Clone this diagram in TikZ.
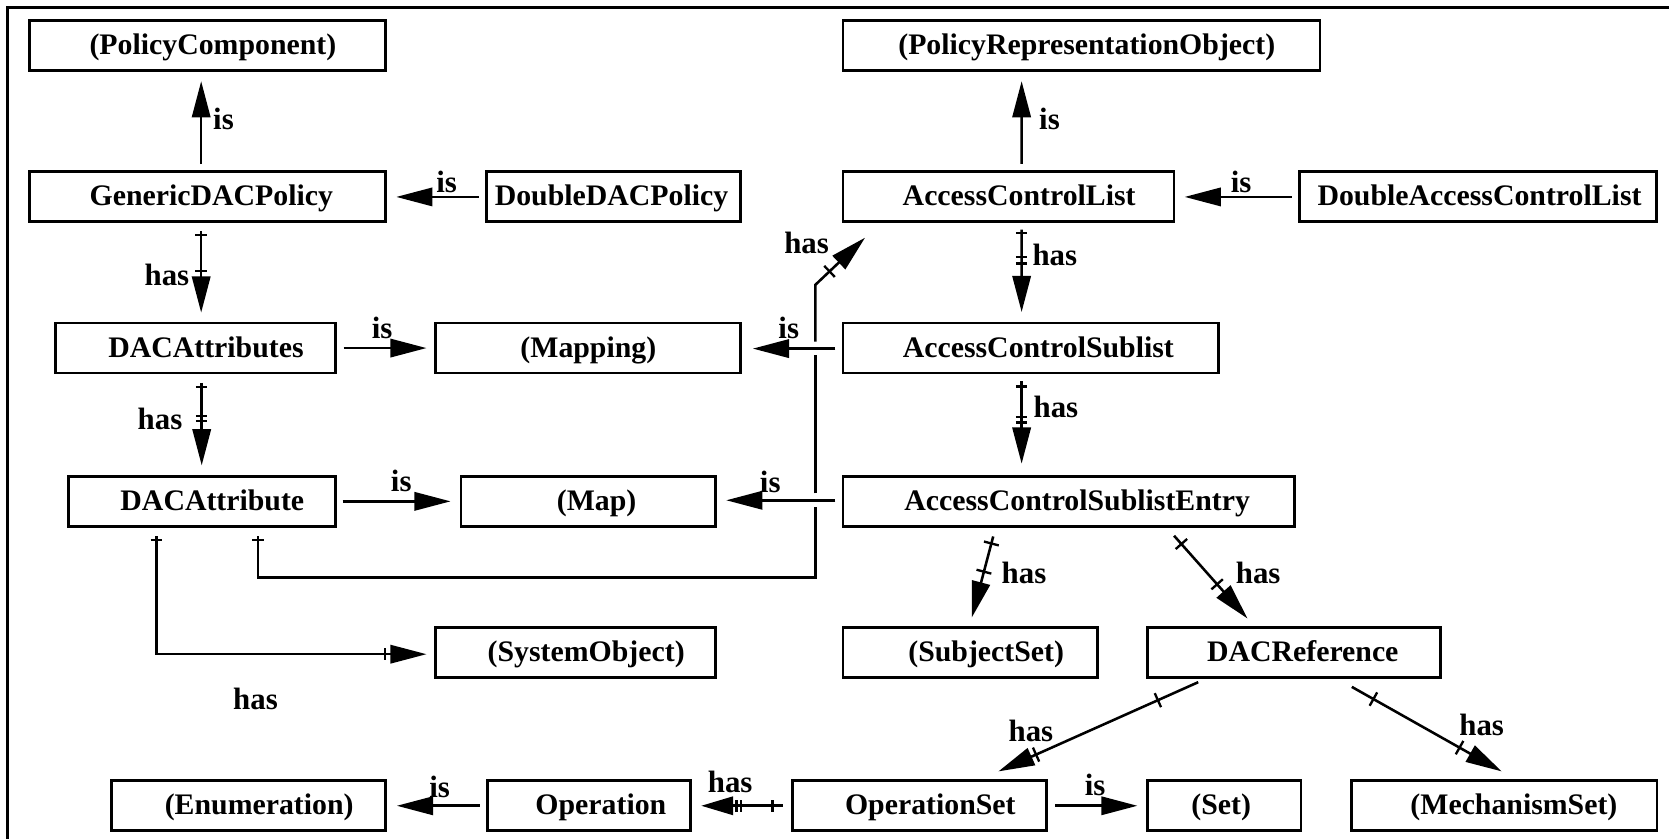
\documentclass[tikz,border=0pt]{standalone}
\usepackage{fontspec}
\setmainfont{Liberation Serif}
\usetikzlibrary{arrows.meta,decorations.markings,calc}

\begin{document}
\begin{tikzpicture}[x=0.5pt,y=-0.5pt,
  box/.style={draw, line width=1.3pt, rectangle, inner sep=0pt,
    minimum height=23.5pt, text height=10.8pt, text depth=2.2pt,
    font=\fontsize{14}{16}\selectfont\bfseries},
  bw/.style={minimum width=#1*0.5pt},
  tshift/.style={execute at begin node={\hspace*{#1pt}}},
  conn/.style={line width=1.2pt},
  headed/.style={-{Triangle[length=17pt,width=8.6pt]}},
  lbl/.style={font=\fontsize{14.5}{16}\selectfont\bfseries, inner sep=0pt},
  bar at/.style={postaction={decorate, decoration={markings,
    mark=at position #1 with {\draw[arrows=-, line width=1.2pt] (0,-2.7pt) -- (0,2.7pt);}}}},
  cross at/.style={postaction={decorate, decoration={markings,
    mark=at position #1 with {\draw[arrows=-, line width=1.1pt] (0,-3.6pt) -- (0,3.6pt);}}}}
]
\useasboundingbox (0,0) rectangle (1568,788);

% frame
\draw[line width=1.3pt] (7,788) -- (7,7) -- (1568,7);

% classes
\node[box, bw=334,   tshift=5]   (pc)      at (195,42.5)    {(PolicyComponent)};
\node[box, bw=448,   tshift=5]   (pro)     at (1016,42.5)   {(PolicyRepresentationObject)};
\node[box, bw=334,   tshift=3.5] (gdp)     at (195,184.5)   {GenericDACPolicy};
\node[box, bw=239,   tshift=-2]  (ddp)     at (576.5,184.5) {DoubleDACPolicy};
\node[box, bw=311,   tshift=10]  (acl)     at (947.5,184.5) {AccessControlList};
\node[box, bw=335,   tshift=1.5] (dacl)    at (1388.5,184.5){DoubleAccessControlList};
\node[box, bw=263,   tshift=10]  (dattrs)  at (183.5,327)   {DACAttributes};
\node[box, bw=286.5, tshift=0]   (mapping) at (552.75,327)  {(Mapping)};
\node[box, bw=353,   tshift=7]   (acs)     at (968.5,327)   {AccessControlSublist};
\node[box, bw=251,   tshift=10]  (dattr)   at (189.5,471)   {DACAttribute};
\node[box, bw=239,   tshift=8]   (map)     at (552.5,471)   {(Map)};
\node[box, bw=424,   tshift=8]   (acse)    at (1004,471)    {AccessControlSublistEntry};
\node[box, bw=262.5, tshift=10]  (sysobj)  at (540.75,613)  {(SystemObject)};
\node[box, bw=239,   tshift=15]  (subj)    at (911.5,613)   {(SubjectSet)};
\node[box, bw=275,   tshift=8]   (dacref)  at (1215.9,613)  {DACReference};
\node[box, bw=257,   tshift=10]  (enum)    at (233.5,757)   {(Enumeration)};
\node[box, bw=191,   tshift=11]  (oper)    at (553.5,757)   {Operation};
\node[box, bw=239,   tshift=10]  (opset)   at (864,757)     {OperationSet};
\node[box, bw=144,   tshift=-3]  (set)     at (1150.3,757)  {(Set)};
\node[box, bw=286.6, tshift=9]   (mech)    at (1413.3,757)  {(MechanismSet)};

% left column
\draw[conn, headed] ([shift={(-6,-5.5)}]gdp.north) -- ([shift={(-6,9)}]pc.south);
\node[lbl] (l1) at (210,112) {is};

\draw[conn, headed] ([shift={(-6,0.5)}]ddp.west) -- ([shift={(9,0.5)}]gdp.east);
\node[lbl] (l2) at (419.6,171) {is};

\draw[conn, headed, bar at=1.9pt, bar at=-19.5pt]
  ([shift={(-6,7.5)}]gdp.south) -- ([shift={(5.5,-8.5)}]dattrs.north);
\node[lbl] (l3) at (156.8,258) {has};

\draw[conn, headed, bar at=1.85pt, bar at=-23.2pt, bar at=-20.8pt]
  ([shift={(6,8)}]dattrs.south) -- ([shift={(0,-9)}]dattr.north);
\node[lbl] (l4) at (150.3,394) {has};

\draw[conn, headed] ([shift={(6.6,0)}]dattrs.east) -- ([shift={(-7.5,0)}]mapping.west);
\node[lbl] (l5) at (359,308) {is};

\draw[conn, headed] ([shift={(-6,0.5)}]acs.west) -- ([shift={(10,0.5)}]mapping.east);
\node[lbl] (l6) at (741,308) {is};

\draw[conn, headed] ([shift={(5.6,0)}]dattr.east) -- ([shift={(-8.4,0)}]map.west);
\node[lbl] (l7) at (377,452) {is};

\draw[conn, headed] ([shift={(-6,-1)}]acse.west) -- ([shift={(9,-1)}]map.east);
\node[lbl] (l8) at (723.6,452.7) {is};

% DACAttribute -> AccessControlList, broken where it crosses the "is" lines
\draw[conn, bar at=1.85pt]
  ([shift={(53,8)}]dattr.south) |- ([shift={(-24.7,71.7)}]acse.west)
  -- ([shift={(-24.7,5.5)}]acse.west);
\draw[conn] ([shift={(-24.7,-7.5)}]acse.west) -- ([shift={(-24.7,6.5)}]acs.west);
\draw[conn, headed, cross at=-23pt]
  ([shift={(-24.7,-6)}]acs.west) -- ([shift={(-24.7,-59.4)}]acs.west)
  -- ([shift={(22,14)}]acl.south west);
\node[lbl] (l9) at (757.8,228.7) {has};

% DACAttribute -> (SystemObject)
\draw[conn, headed, bar at=1.85pt, bar at=-19.6pt]
  ([shift={(-42.5,8)}]dattr.south) |- ([shift={(-7.5,1.6)}]sysobj.west);
\node[lbl] (l10) at (240,657) {has};

% right column
\draw[conn, headed] ([shift={(12.3,-5.7)}]acl.north) -- ([shift={(-56.2,9)}]pro.south);
\node[lbl] (l11) at (986,112) {is};

\draw[conn, headed] ([shift={(-6,0.5)}]dacl.west) -- ([shift={(8.7,0.5)}]acl.east);
\node[lbl] (l12) at (1166,171) {is};

\draw[conn, headed, bar at=1.5pt, bar at=-25.85pt, bar at=-22.7pt]
  ([shift={(12.3,6.5)}]acl.south) -- ([shift={(-8.7,-9.1)}]acs.north);
\node[lbl] (l13) at (991,239.6) {has};

\draw[conn, headed, bar at=2.35pt, bar at=-21.95pt, bar at=-19.3pt]
  ([shift={(-8.7,6.5)}]acs.south) -- ([shift={(-44.2,-10.6)}]acse.north);
\node[lbl] (l14) at (992,382) {has};

\draw[conn, headed, cross at=3.4pt, cross at=-22.25pt]
  ([shift={(-70.9,8.2)}]acse.south) -- ([shift={(1.5,-8.1)}]subj.north);
\node[lbl] (l15) at (962,538) {has};

\draw[conn, headed, cross at=5.2pt, cross at=-21.5pt]
  ([shift={(99,7.5)}]acse.south) -- ([shift={(-43.9,-7.1)}]dacref.north);
\node[lbl] (l16) at (1182,538) {has};

\draw[conn, headed, cross at=20.75pt, cross at=-19.25pt]
  ([shift={(-90.2,3.1)}]dacref.south) -- ([shift={(74,-7.5)}]opset.north);
\node[lbl] (l17) at (968.5,687) {has};

\draw[conn, headed, cross at=11.65pt, cross at=-22.7pt]
  ([shift={(54.1,7.5)}]dacref.south) -- ([shift={(-2.5,-7.5)}]mech.north);
\node[lbl] (l18) at (1392,681) {has};

% bottom row
\draw[conn, headed] ([shift={(6.6,0)}]opset.east) -- ([shift={(-8.4,0)}]set.west);
\node[lbl] (l19) at (1028.8,737) {is};

\draw[conn, -{Triangle[length=15pt,width=8.6pt]}, bar at=5pt, bar at=-18.75pt, bar at=-16.6pt]
  ([shift={(-7.6,0)}]opset.west) -- ([shift={(8.5,0)}]oper.east);
\node[lbl] (l20) at (686,735) {has};

\draw[conn, headed] ([shift={(-6,0)}]oper.west) -- ([shift={(9.5,0)}]enum.east);
\node[lbl] (l21) at (413,739) {is};

\end{tikzpicture}
\end{document}
